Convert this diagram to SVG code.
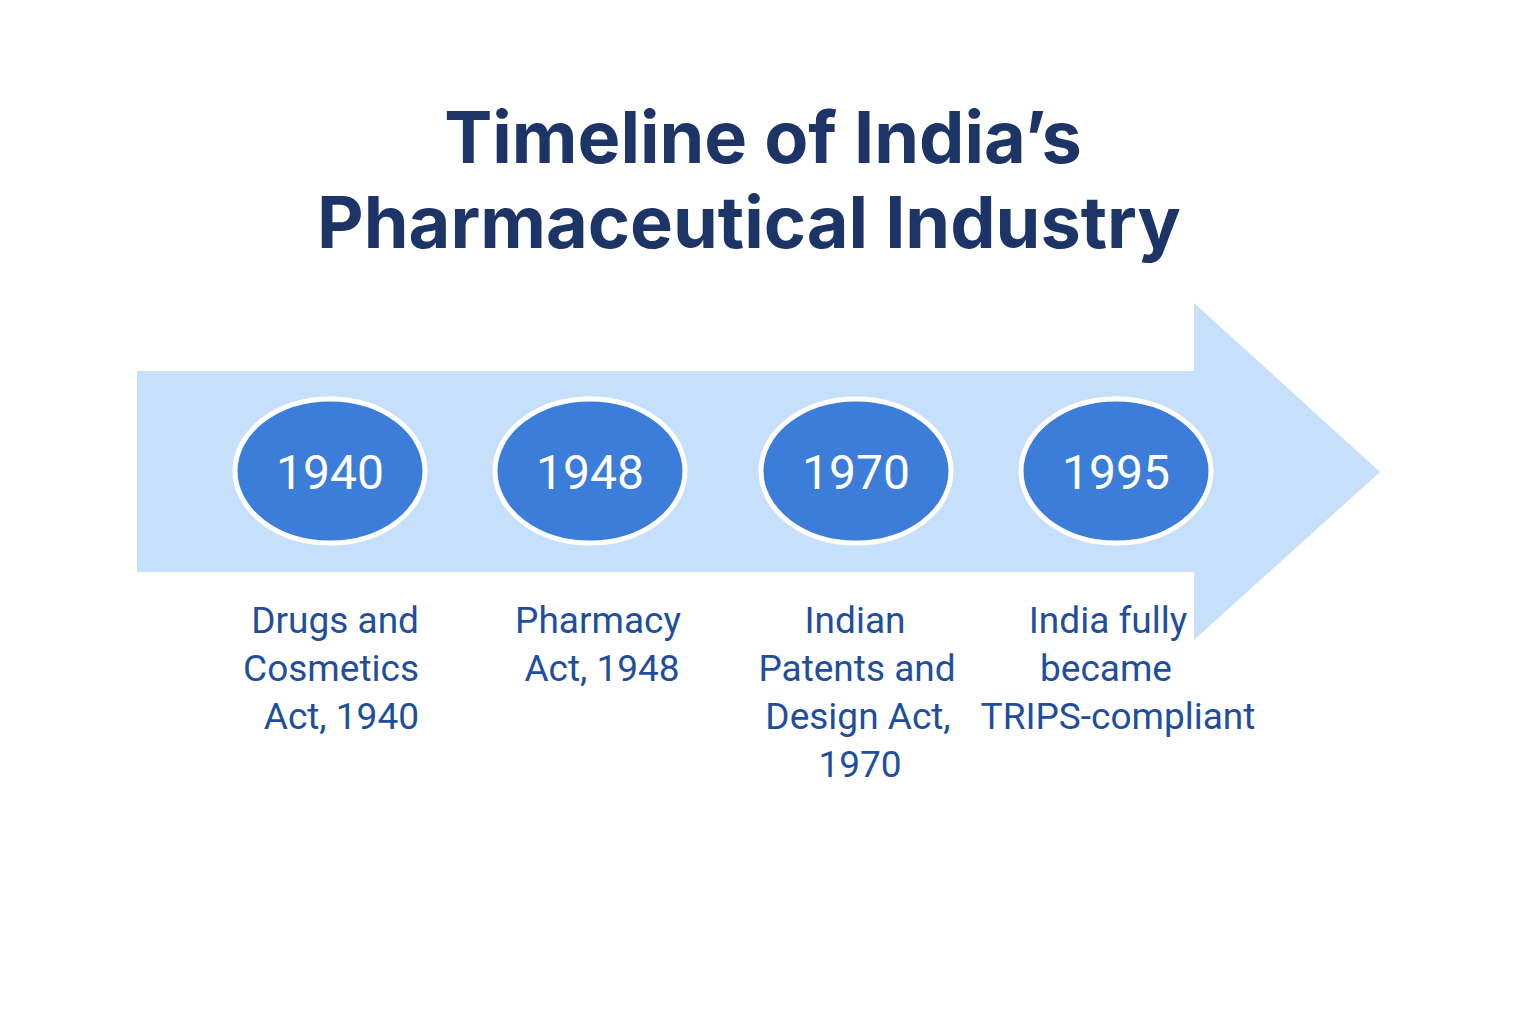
<svg xmlns="http://www.w3.org/2000/svg" width="1536" height="1024" viewBox="0 0 1536 1024">
<style>
.title{font-family:Inter,"Noto Sans","Liberation Sans",sans-serif;font-weight:700;font-size:72px;fill:#1c3466;text-anchor:middle}
.year{font-family:Roboto,"Noto Sans","Liberation Sans",sans-serif;font-size:48px;fill:#ffffff;text-anchor:middle}
.lbl{font-family:Roboto,"Noto Sans","Liberation Sans",sans-serif;font-size:37px;fill:#1f4e9e}
.dot{fill:#3b7dd8;stroke:#ffffff;stroke-width:5}
</style>
<rect width="1536" height="1024" fill="#ffffff"/>
<g id="title">
<text class="title" x="763" y="163">Timeline of India’s</text>
<text class="title" x="749" y="248">Pharmaceutical Industry</text>
</g>
<g id="connectors">
<polygon points="137,371 1194,371 1194,303 1380,472 1194,640 1194,572 137,572" fill="#c6dffa"/>
</g>
<g id="n1940">
<ellipse class="dot" cx="330" cy="471" rx="95" ry="72"/>
<text class="year" x="330" y="489">1940</text>
<text class="lbl" text-anchor="end" x="419" y="633">Drugs and</text>
<text class="lbl" text-anchor="end" x="419" y="681">Cosmetics</text>
<text class="lbl" text-anchor="end" x="419" y="729">Act, 1940</text>
</g>
<g id="n1948">
<ellipse class="dot" cx="590" cy="471" rx="95" ry="72"/>
<text class="year" x="590" y="489">1948</text>
<text class="lbl" text-anchor="middle" x="598" y="633">Pharmacy</text>
<text class="lbl" text-anchor="middle" x="602" y="681">Act, 1948</text>
</g>
<g id="n1970">
<ellipse class="dot" cx="856" cy="471" rx="95" ry="72"/>
<text class="year" x="856" y="489">1970</text>
<text class="lbl" text-anchor="middle" x="855" y="633">Indian</text>
<text class="lbl" text-anchor="middle" x="857" y="681">Patents and</text>
<text class="lbl" text-anchor="middle" x="858" y="729">Design Act,</text>
<text class="lbl" text-anchor="middle" x="860" y="777">1970</text>
</g>
<g id="n1995">
<ellipse class="dot" cx="1116" cy="471" rx="95" ry="72"/>
<text class="year" x="1116" y="489">1995</text>
<text class="lbl" text-anchor="middle" x="1108" y="633">India fully</text>
<text class="lbl" text-anchor="middle" x="1106" y="681">became</text>
<text class="lbl" text-anchor="middle" x="1118" y="729">TRIPS-compliant</text>
</g>
</svg>
